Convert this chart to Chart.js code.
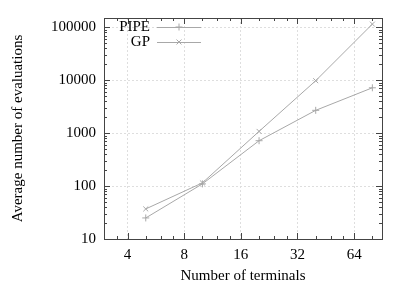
<!DOCTYPE html>
<html>
<head>
<meta charset="utf-8">
<script src="https://cdn.jsdelivr.net/npm/chart.js@4"></script>
<style>
  html, body { margin: 0; padding: 0; background: #fff; }
  #wrap { width: 407px; height: 285px; }
</style>
</head>
<body>
<div id="wrap"><canvas id="graphique"></canvas></div>
<script>
const terminals = [5, 10, 20, 40, 80];
const pipeEvals = [25, 110, 720, 2700, 7200];
const gpEvals = [37, 115, 1080, 9800, 115000];
const xMajorTicks = [4, 8, 16, 32, 64];
const yMajorTicks = [10, 100, 1000, 10000, 100000];

const police = "Liberation Serif";
const gris = "#a8a8a8";

// minor ticks : 1/4 steps inside each octave (x), 2..9 inside each decade (y)
const xTicks = [3, 3.5];
xMajorTicks.forEach((v) => xTicks.push(v, v * 1.25, v * 1.5, v * 1.75));
const yTicks = [];
yMajorTicks.forEach((v) => {
  for (let k = 1; k <= 9; k++) yTicks.push(v * k);
});

const estMajeur = (liste, v) => liste.some((m) => Math.abs(m - v) < 1e-9);

// frame + inward ticks on the four sides
const cadre = {
  id: "cadre",
  afterDraw(chart) {
    const { ctx, chartArea: a, scales } = chart;
    ctx.save();
    ctx.strokeStyle = "#444";
    ctx.lineWidth = 1;
    ctx.strokeRect(Math.round(a.left) + 0.5, Math.round(a.top) + 0.5,
      Math.round(a.right - a.left), Math.round(a.bottom - a.top));
    ctx.beginPath();
    scales.x.ticks.forEach((t) => {
      const px = Math.round(scales.x.getPixelForValue(t.value)) + 0.5;
      if (px < a.left || px > a.right) return;
      const l = estMajeur(xMajorTicks, t.value) ? 6 : 3;
      ctx.moveTo(px, a.bottom); ctx.lineTo(px, a.bottom - l);
      ctx.moveTo(px, a.top); ctx.lineTo(px, a.top + l);
    });
    scales.y.ticks.forEach((t) => {
      const py = Math.round(scales.y.getPixelForValue(t.value)) + 0.5;
      if (py < a.top || py > a.bottom) return;
      const l = estMajeur(yMajorTicks, t.value) ? 6 : 3;
      ctx.moveTo(a.left, py); ctx.lineTo(a.left + l, py);
      ctx.moveTo(a.right, py); ctx.lineTo(a.right - l, py);
    });
    ctx.stroke();

    // legend : text right-aligned, then a line sample with the marker
    ctx.font = "15px " + police;
    ctx.fillStyle = "#000";
    ctx.textAlign = "right";
    ctx.textBaseline = "middle";
    chart.data.datasets.forEach((ds, i) => {
      const y = 27 + i * 15;
      ctx.fillText(ds.label, 150, y);
      ctx.strokeStyle = ds.borderColor;
      ctx.lineWidth = 1;
      ctx.beginPath();
      ctx.moveTo(157, y + 0.5);
      ctx.lineTo(201, y + 0.5);
      ctx.stroke();
      Chart.helpers.drawPoint(ctx, {
        pointStyle: ds.pointStyle, radius: ds.pointRadius,
        borderWidth: 1, rotation: 0,
      }, 179, y);
    });
    ctx.restore();
  },
};

const ctx = document.getElementById("graphique").getContext("2d");
new Chart(ctx, {
  type: "line",
  data: {
    datasets: [
      {
        label: "PIPE",
        data: terminals.map((x, i) => ({ x, y: pipeEvals[i] })),
        borderColor: gris,
        borderWidth: 1,
        pointStyle: "cross",
        pointRadius: 3.5,
        pointBorderColor: gris,
        pointBorderWidth: 1,
        tension: 0,
      },
      {
        label: "GP",
        data: terminals.map((x, i) => ({ x, y: gpEvals[i] })),
        borderColor: gris,
        borderWidth: 1,
        pointStyle: "crossRot",
        pointRadius: 3.5,
        pointBorderColor: gris,
        pointBorderWidth: 1,
        tension: 0,
      },
    ],
  },
  options: {
    responsive: true,
    maintainAspectRatio: false,
    animation: false,
    layout: { padding: { left: 0, right: 25, top: 18, bottom: 0 } },
    plugins: { legend: { display: false }, tooltip: { enabled: false } },
    scales: {
      x: {
        type: "logarithmic",
        min: 3,
        max: 90,
        afterBuildTicks: (scale) => { scale.ticks = xTicks.map((v) => ({ value: v })); },
        afterFit: (scale) => { scale.height = 46; },
        ticks: {
          autoSkip: false,
          maxRotation: 0,
          padding: 7,
          color: "#000",
          font: { family: police, size: 15 },
          callback: (v) => (estMajeur(xMajorTicks, v) ? String(v) : ""),
        },
        grid: {
          drawTicks: false,
          color: (c) => (c.tick && estMajeur(xMajorTicks, c.tick.value) ? "#dedede" : "rgba(0,0,0,0)"),
        },
        border: { display: false, dash: [2, 2] },
        title: {
          display: true,
          text: "Number of terminals",
          color: "#000",
          font: { family: police, size: 15 },
          padding: { top: 0, bottom: 0 },
        },
      },
      y: {
        type: "logarithmic",
        min: 10,
        max: 150000,
        afterBuildTicks: (scale) => { scale.ticks = yTicks.map((v) => ({ value: v })); },
        afterFit: (scale) => { scale.width = 104; },
        ticks: {
          autoSkip: false,
          padding: 8,
          color: "#000",
          font: { family: police, size: 15 },
          callback: (v) => (estMajeur(yMajorTicks, v) ? String(v) : ""),
        },
        grid: {
          drawTicks: false,
          color: (c) => (c.tick && estMajeur(yMajorTicks, c.tick.value) ? "#dedede" : "rgba(0,0,0,0)"),
        },
        border: { display: false, dash: [2, 2] },
        title: {
          display: true,
          text: "Average number of evaluations",
          color: "#000",
          font: { family: police, size: 15 },
          padding: { top: 9, bottom: 0 },
        },
      },
    },
  },
  plugins: [cadre],
});
</script>
</body>
</html>
